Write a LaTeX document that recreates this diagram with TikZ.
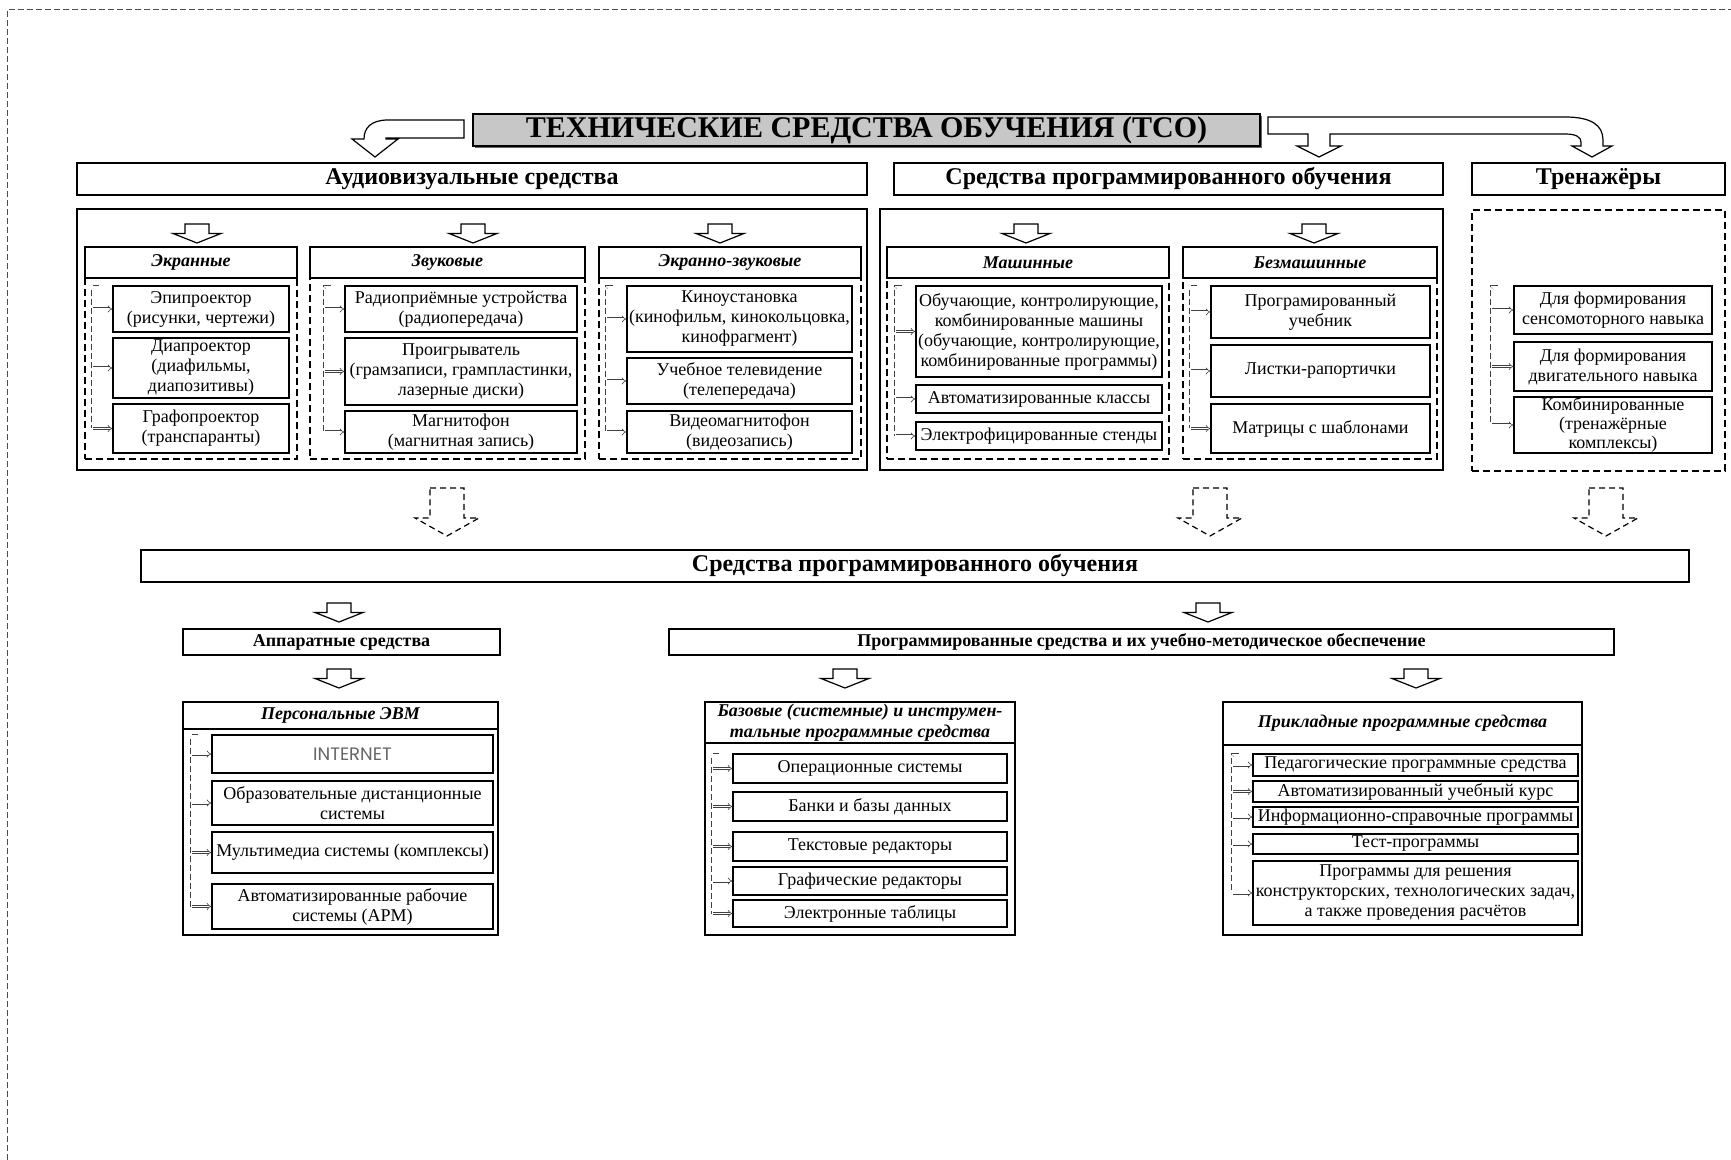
\documentclass[tikz,border=0pt]{standalone}
\usepackage{fontspec}
\setmainfont{Liberation Serif}
\newfontfamily\inetfont{Poppins}
\usetikzlibrary{calc,shadows,arrows.meta}

\newcommand\fitem{\fontsize{9}{10}\selectfont}
\newcommand\fsub{\fontsize{9}{10.5}\selectfont\bfseries\itshape}
\newcommand\fhdr{\fontsize{12}{14}\selectfont\bfseries}
\newcommand\fhdrs{\fontsize{9}{10}\selectfont\bfseries}
\newcommand\ftitle{\fontsize{15}{17}\selectfont\bfseries}

\tikzset{
  shd/.style={drop shadow={shadow xshift=0.6pt, shadow yshift=-0.6pt, fill=black!45, opacity=1}},
  base/.style={draw, line width=0.6pt, fill=white, inner sep=0pt, align=center},
  item/.style={base, shd, font=\fitem},
  subhead/.style={base, shd, font=\fsub},
  head/.style={base, shd, font=\fhdr},
  heads/.style={base, shd, font=\fhdrs},
  titlebox/.style={base, fill=black!22, drop shadow={shadow xshift=1.2pt, shadow yshift=-1.2pt, fill=black!60, opacity=1}, font=\ftitle},
  frame/.style={base, shd},
  grp/.style={draw, line width=0.6pt, dash pattern=on 3.5pt off 2pt, inner sep=0pt},
  barrow/.style={draw, line width=0.6pt, fill=white, line join=miter},
  dbarrow/.style={barrow, dash pattern=on 3pt off 2pt},
  grpline/.style={draw=black!75, line width=0.3pt, double, double distance=1.4pt, dash pattern=on 3pt off 1.5pt},
  grparrow/.style={draw=black!75, line width=0.3pt, double, double distance=0.9pt, -{Implies}},
  outer/.style={draw=black!70, line width=0.5pt, dash pattern=on 3pt off 1.5pt},
}

% rectangle node spanning two corners: style, name, x1, y1, x2, y2, text
\newcommand\boxat[7]{%
  \node[#1, minimum width={(#5-#3)*0.5pt}, minimum height={(#6-#4)*0.5pt}]
    (#2) at ({(#3+#5)/2},{(#4+#6)/2}) {#7};}
% small solid block arrow pointing down: centre x, top y, tip y
\newcommand\blockdown[3]{%
  \draw[barrow] ({#1-12},#2) -- ({#1+12},#2) -- ({#1+12},{(#2+#3)/2}) -- ({#1+24},{(#2+#3)/2})
    -- (#1,#3) -- ({#1-24},{(#2+#3)/2}) -- ({#1-12},{(#2+#3)/2}) -- cycle;}
% dashed block arrow pointing down: centre x
\newcommand\dashdown[1]{%
  \draw[dbarrow] ({#1-17},488) -- ({#1+17},488) -- ({#1+17},518) -- ({#1+32},518)
    -- (#1,536) -- ({#1-32},518) -- ({#1-17},518) -- cycle;}
% dashed bracket feeding every item of a group: first, last, all, offset
\newcommand\linkgroup[4]{%
  \draw[grpline] ($(#1.north west)+({-#4+6},2)$) -- ($(#1.north west)+(-#4,2)$)
    -- ($(#2.west)+(-#4,0)$);
  \foreach \q in {#3} \draw[grparrow] ($(\q.west)+(-#4,0)$) -- (\q.west);}

\begin{document}
\begin{tikzpicture}[x=0.5pt,y=-0.5pt]
\useasboundingbox (0,0) rectangle (1731,1160);
\draw[outer] (7,1160) -- (7,10) -- (1731,10);

% ---- title and its bent arrows
\boxat{titlebox}{tso}{473}{114}{1260}{146}{ТЕХНИЧЕСКИЕ СРЕДСТВА ОБУЧЕНИЯ (ТСО)}
\draw[barrow] (464,120) -- (388,120) .. controls (371,120) and (364,128) .. (364,139)
  -- (352,139) -- (375,157) -- (398,139) -- (386,139) -- (386,138) -- (464,138) -- cycle;
\draw[barrow] (1268,117) -- (1565,117) .. controls (1591,117) and (1603,125) .. (1603,140)
  -- (1603,146) -- (1612,146) -- (1592,157) -- (1572,146) -- (1581,146) -- (1581,142)
  .. controls (1581,137) and (1576,134) .. (1565,134) -- (1330,134) -- (1330,146)
  -- (1341,146) -- (1319,157) -- (1297,146) -- (1308,146) -- (1308,134) -- (1268,134) -- cycle;

% ---- main groups
\boxat{head}{av}{77}{163}{867}{195}{Аудиовизуальные средства}
\boxat{head}{spo}{894}{163}{1443}{195}{Средства программированного обучения}
\boxat{head}{tr}{1472}{163}{1725}{195}{Тренажёры}

\boxat{frame}{avc}{77}{209}{867}{470}{}
\boxat{frame}{spoc}{880}{209}{1443}{470}{}
\boxat{grp}{trc}{1472}{210}{1725}{471}{}

\blockdown{197}{224}{243}
\blockdown{473}{224}{243}
\blockdown{720}{224}{243}
\blockdown{1026}{224}{243}
\blockdown{1314}{224}{243}

% ---- audiovisual subgroups
\boxat{subhead}{ekr}{85}{247}{297}{278}{Экранные}
\boxat{grp}{ekrg}{85}{278}{297}{459}{}
\boxat{subhead}{zv}{310}{247}{585}{278}{Звуковые}
\boxat{grp}{zvg}{310}{278}{585}{459}{}
\boxat{subhead}{ez}{599}{247}{861}{278}{Экранно-звуковые}
\boxat{grp}{ezg}{599}{278}{861}{459}{}

\boxat{item}{e1}{113}{286}{289}{332}{Эпипроектор\\(рисунки, чертежи)}
\boxat{item}{e2}{113}{338}{289}{398}{Диапроектор\\(диафильмы,\\диапозитивы)}
\boxat{item}{e3}{113}{404}{289}{453}{Графопроектор\\(транспаранты)}
\linkgroup{e1}{e3}{e1,e2,e3}{19}

\boxat{item}{z1}{345}{286}{577}{332}{Радиоприёмные устройства\\(радиопередача)}
\boxat{item}{z2}{345}{338}{577}{405}{Проигрыватель\\(грамзаписи, грампластинки,\\лазерные диски)}
\boxat{item}{z3}{345}{411}{577}{453}{Магнитофон\\(магнитная запись)}
\linkgroup{z1}{z3}{z1,z2,z3}{19}

\boxat{item}{k1}{627}{286}{852}{352}{Киноустановка\\(кинофильм, кинокольцовка,\\кинофрагмент)}
\boxat{item}{k2}{627}{358}{852}{404}{Учебное телевидение\\(телепередача)}
\boxat{item}{k3}{627}{411}{852}{453}{Видеомагнитофон\\(видеозапись)}
\linkgroup{k1}{k3}{k1,k2,k3}{19}

% ---- programmed learning subgroups
\boxat{subhead}{ma}{887}{247}{1169}{278}{Машинные}
\boxat{grp}{mag}{887}{278}{1169}{459}{}
\boxat{subhead}{bm}{1183}{247}{1437}{278}{Безмашинные}
\boxat{grp}{bmg}{1183}{278}{1437}{459}{}

\boxat{item}{m1}{916}{286}{1162}{377}{Обучающие, контролирующие,\\комбинированные машины\\(обучающие, контролирующие,\\комбинированные программы)}
\boxat{item}{m2}{916}{385}{1162}{413}{Автоматизированные классы}
\boxat{item}{m3}{916}{422}{1162}{450}{Электрофицированные стенды}
\linkgroup{m1}{m3}{m1,m2,m3}{19}

\boxat{item}{b1}{1211}{286}{1430}{338}{Програмированный\\учебник}
\boxat{item}{b2}{1211}{345}{1430}{397}{Листки-рапортички}
\boxat{item}{b3}{1211}{404}{1430}{453}{Матрицы с шаблонами}
\linkgroup{b1}{b3}{b1,b2,b3}{19}

% ---- trainers
\boxat{item}{t1}{1514}{286}{1712}{334}{Для формирования\\сенсомоторного навыка}
\boxat{item}{t2}{1514}{342}{1712}{391}{Для формирования\\двигательного навыка}
\boxat{item, font=\fontsize{9}{9.4}\selectfont}{t3}{1514}{397}{1712}{453}{Комбинированные\\(тренажёрные\\комплексы)}
\linkgroup{t1}{t3}{t1,t2,t3}{21}

% ---- second level
\dashdown{447}
\dashdown{1210}
\dashdown{1606}

\boxat{head}{spo2}{141}{550}{1689}{582}{Средства программированного обучения}
\blockdown{339}{603}{622}
\blockdown{1208}{603}{622}
\boxat{heads}{hw}{183}{629}{500}{655}{Аппаратные средства}
\boxat{heads}{sw}{669}{629}{1614}{655}{Программированные средства и их учебно-методическое обеспечение}
\blockdown{339}{669}{688}
\blockdown{845}{669}{688}
\blockdown{1416}{669}{688}

% ---- personal computers
\boxat{frame}{pc}{183}{702}{498}{935}{}
\boxat{subhead}{pch}{183}{702}{498}{729}{Персональные ЭВМ}
\boxat{item, font=\inetfont\fontsize{9}{10}\selectfont, text=black!60}{p1}{212}{735}{493}{773}{INTERNET}
\boxat{item}{p2}{212}{781}{493}{825}{Образовательные дистанционные\\системы}
\boxat{item}{p3}{212}{832}{493}{873}{Мультимедиа системы (комплексы)}
\boxat{item}{p4}{212}{884}{493}{929}{Автоматизированные рабочие\\системы (АРМ)}
\linkgroup{p1}{p4}{p1,p2,p3,p4}{19}

% ---- base and tool software
\boxat{frame}{bs}{705}{702}{1015}{935}{}
\boxat{subhead}{bsh}{705}{702}{1015}{743}{Базовые (системные) и инструмен-\\тальные программные средства}
\boxat{item}{s1}{733}{754}{1007}{783}{Операционные системы}
\boxat{item}{s2}{733}{792}{1007}{821}{Банки и базы данных}
\boxat{item}{s3}{733}{832}{1007}{861}{Текстовые редакторы}
\boxat{item}{s4}{733}{867}{1007}{895}{Графические редакторы}
\boxat{item}{s5}{733}{900}{1007}{927}{Электронные таблицы}
\linkgroup{s1}{s5}{s1,s2,s3,s4,s5}{19}

% ---- application software
\boxat{frame}{ap}{1223}{702}{1582}{935}{}
\boxat{subhead}{aph}{1223}{702}{1582}{745}{Прикладные программные средства}
\boxat{item}{a1}{1253}{754}{1578}{776}{Педагогические программные средства}
\boxat{item}{a2}{1253}{781}{1578}{802}{Автоматизированный учебный курс}
\boxat{item}{a3}{1253}{807}{1578}{827}{Информационно-справочные программы}
\boxat{item}{a4}{1253}{834}{1578}{854}{Тест-программы}
\boxat{item}{a5}{1253}{861}{1578}{925}{Программы для решения\\конструкторских, технологических задач,\\а также проведения расчётов}
\linkgroup{a1}{a5}{a1,a2,a3,a4,a5}{19}
\end{tikzpicture}
\end{document}
